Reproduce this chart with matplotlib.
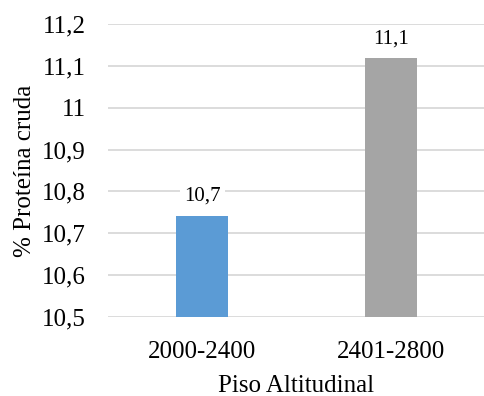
import matplotlib.pyplot as plt
from matplotlib.ticker import FuncFormatter

plt.rcParams['font.family'] = ['Liberation Serif', 'DejaVu Serif']

categories = ['2000-2400', '2401-2800']
values = [10.742, 11.118]
labels = ['10,7', '11,1']
colors = ['#5b9bd5', '#a5a5a5']
yticks = [10.5, 10.6, 10.7, 10.8, 10.9, 11.0, 11.1, 11.2]

fig = plt.figure(figsize=(4.85, 3.96), dpi=100)
ax = fig.add_axes([0.2227, 0.1995, 0.7773, 0.7399])

x = range(len(categories))
bars = ax.bar(x, [v - 10.5 for v in values], bottom=10.5, width=0.276,
              color=colors, zorder=3)

for xi, v, lab in zip(x, values, labels):
    ax.annotate(lab, (xi, v), xytext=(0, 7), textcoords='offset points',
                ha='center', va='bottom', fontsize=15, zorder=4,
                bbox=dict(facecolor='white', edgecolor='none', pad=3))

ax.set_xlim(-0.5, 1.5)
ax.set_ylim(10.5, 11.2)
ax.set_yticks(yticks)
ax.yaxis.set_major_formatter(FuncFormatter(
    lambda v, p: ('%g' % round(v, 1)).replace('.', ',')))
ax.set_xticks(list(x))
ax.set_xticklabels(categories)
ax.grid(axis='y', color='#d9d9d9', linewidth=1.3, zorder=0)
ax.set_axisbelow(True)
for s in ax.spines.values():
    s.set_visible(False)
ax.tick_params(axis='both', length=0, labelsize=18)
ax.tick_params(axis='y', pad=16)
ax.tick_params(axis='x', pad=17)
ax.set_xlabel('Piso Altitudinal', fontsize=18, labelpad=9)
ax.set_ylabel('% Proteína cruda', fontsize=18, labelpad=4)

fig.savefig('out.png', dpi=100)
